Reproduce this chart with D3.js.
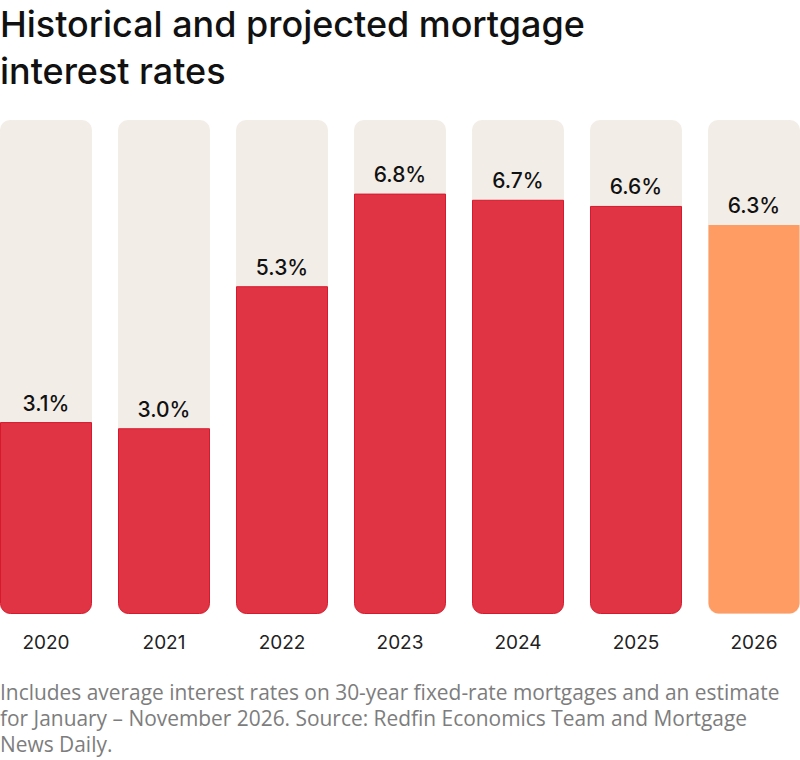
<!DOCTYPE html>
<html><head><meta charset="utf-8">
<script src="https://cdn.jsdelivr.net/npm/d3@7/dist/d3.min.js"></script>
<style>
html,body{margin:0;padding:0;background:#fff;}
svg{display:block;}
</style></head>
<body>
<svg id="chart" width="800" height="760"></svg>
<script>
const years = ["2020","2021","2022","2023","2024","2025","2026"];
const rates = [3.1, 3.0, 5.3, 6.8, 6.7, 6.6, 6.3];
const projected = [false,false,false,false,false,false,true];
const titleLines = ["Historical and projected mortgage","interest rates"];
const noteLines = ["Includes average interest rates on 30-year fixed-rate mortgages and an estimate",
  "for January \u2013 November 2026. Source: Redfin Economics Team and Mortgage",
  "News Daily."];

const svg = d3.select("#chart");
const font = "Inter, 'Open Sans', sans-serif";
const noteFont = "'Open Sans', 'Noto Sans', sans-serif";

const x = d3.scaleBand().domain(years).range([0, 800]).paddingInner(26/118).paddingOuter(0);
const y = d3.scaleLinear().domain([0, 8]).range([614, 120]);
const r = 10;

function fitSize(sel, targetWidth){
  const base = +sel.attr("font-size");
  const w = sel.node().getComputedTextLength();
  return base * targetWidth / w;
}

const titles = svg.selectAll("text.title").data(titleLines).join("text")
  .attr("class","title")
  .attr("x", 0).attr("y", (d,i)=>37 + i*47)
  .attr("font-family", font).attr("font-size", 30).attr("font-weight", 500)
  .attr("fill", "#111").text(d=>d);
titles.attr("font-size", fitSize(titles.filter((d,i)=>i===0), 585));

// background bars
svg.selectAll("rect.bg").data(years).join("rect")
  .attr("x", d=>x(d)).attr("y", y(8)).attr("width", x.bandwidth())
  .attr("height", y(0)-y(8)).attr("rx", r).attr("ry", r).attr("fill", "#F2EDE7");

function arcPath(x0, w, top, bottom){
  return `M${x0},${top}H${x0+w}V${bottom-r}A${r},${r} 0 0 1 ${x0+w-r},${bottom}H${x0+r}A${r},${r} 0 0 1 ${x0},${bottom-r}Z`;
}
const data = years.map((yr,i)=>({yr, v:rates[i], p:projected[i]}));
svg.selectAll("path.bar").data(data).join("path")
  .attr("d", d=>arcPath(x(d.yr)+0.5, x.bandwidth()-1, y(d.v), y(0)-0.5))
  .attr("fill", d=>d.p ? "#FF9C64" : "#E03444")
  .attr("stroke", d=>d.p ? "none" : "#D8182C").attr("stroke-width", 1);

svg.selectAll("text.val").data(data).join("text")
  .attr("x", d=>x(d.yr)+x.bandwidth()/2).attr("y", d=>y(d.v)-12)
  .attr("text-anchor","middle").attr("font-family", font).attr("font-size", 21).attr("font-weight", 500)
  .attr("fill", "#111").text(d=>d.v.toFixed(1)+"%");

svg.selectAll("text.yr").data(years).join("text")
  .attr("x", d=>x(d)+x.bandwidth()/2).attr("y", 649)
  .attr("text-anchor","middle").attr("font-family", font).attr("font-size", 19)
  .attr("fill", "#222").text(d=>d);

const notes = svg.selectAll("text.note").data(noteLines).join("text")
  .attr("class","note")
  .attr("x", 0).attr("y", (d,i)=>700 + i*26)
  .attr("font-family", noteFont).attr("font-size", 18)
  .attr("fill", "#7d7d7d").text(d=>d);
notes.attr("font-size", fitSize(notes.filter((d,i)=>i===0), 780));
</script>
</body></html>
